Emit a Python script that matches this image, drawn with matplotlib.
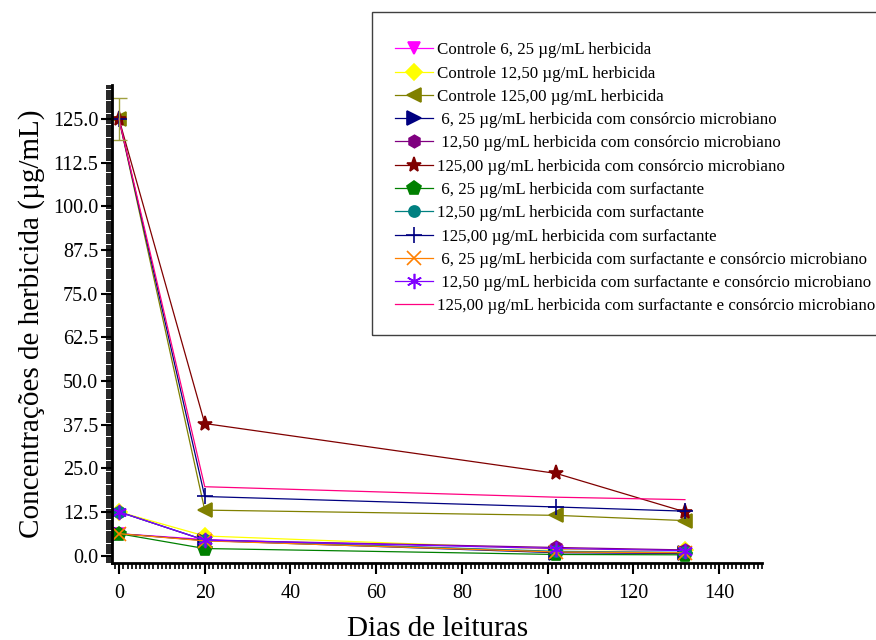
import matplotlib.pyplot as plt
from matplotlib.patches import Rectangle
from matplotlib.ticker import MultipleLocator, FormatStrFormatter

plt.rcParams['font.family'] = ['Liberation Serif', 'DejaVu Serif']

# Dias de leitura
dias = [0, 20, 102, 132]

# Concentrações medidas (µg/mL)
controle_625 = [6.25, 4.6, 1.0, 0.6]
controle_1250 = [12.5, 5.6, 1.8, 1.5]
controle_125 = [125.0, 13.0, 11.5, 10.0]
consorcio_625 = [6.25, 4.3, 0.8, 0.6]
consorcio_1250 = [12.5, 4.4, 2.3, 1.6]
consorcio_125 = [125.0, 37.8, 23.5, 12.5]
surf_625 = [6.25, 2.0, 0.3, 0.2]
surf_1250 = [12.5, 4.4, 1.2, 0.9]
surf_125 = [125.0, 16.9, 13.9, 12.7]
surf_cons_625 = [6.25, 4.2, 1.0, 0.8]
surf_cons_1250 = [12.5, 4.4, 2.0, 1.4]
surf_cons_125 = [125.0, 19.7, 16.7, 16.0]

erro_controle_125 = [6.0, 0, 0, 0]

labels = [
    'Controle 6, 25 µg/mL herbicida',
    'Controle 12,50 µg/mL herbicida',
    'Controle 125,00 µg/mL herbicida',
    ' 6, 25 µg/mL herbicida com consórcio microbiano',
    ' 12,50 µg/mL herbicida com consórcio microbiano',
    '125,00 µg/mL herbicida com consórcio microbiano',
    ' 6, 25 µg/mL herbicida com surfactante',
    '12,50 µg/mL herbicida com surfactante',
    ' 125,00 µg/mL herbicida com surfactante',
    ' 6, 25 µg/mL herbicida com surfactante e consórcio microbiano',
    ' 12,50 µg/mL herbicida com surfactante e consórcio microbiano',
    '125,00 µg/mL herbicida com surfactante e consórcio microbiano',
]

series = [controle_625, controle_1250, controle_125,
          consorcio_625, consorcio_1250, consorcio_125,
          surf_625, surf_1250, surf_125,
          surf_cons_625, surf_cons_1250, surf_cons_125]

colors = ['#FF00FF', '#FFFF00', '#808000', '#000080', '#800080', '#800000',
          '#008000', '#008080', '#000080', '#FF8000', '#8000FF', '#FF0080']
markers = ['v', 'D', '<', '>', 'h', '*', 'p', 'o', '+', 'x', (6, 2, 0), None]
sizes = [9, 8, 10, 10, 9, 11, 10, 8, 11, 10, 11, 0]

fig = plt.figure(figsize=(8.76, 6.4), dpi=100)
ax = fig.add_axes([0.128, 0.12, 0.742, 0.747])

for vals, lab, c, m, s in zip(series, labels, colors, markers, sizes):
    ax.plot(dias, vals, color=c, marker=m, markersize=s, linewidth=0.9,
            markeredgecolor=c, markeredgewidth=1.2, label=lab)

ax.errorbar(dias[:1], controle_125[:1], yerr=erro_controle_125[:1], fmt='none',
            ecolor='#A0A040', elinewidth=1.0, capsize=6, capthick=1.0)

ax.set_xlim(-1.6, 150)
ax.set_ylim(-2.2, 134.7)
ax.xaxis.set_major_locator(MultipleLocator(20))
ax.xaxis.set_minor_locator(MultipleLocator(1))
ax.yaxis.set_major_locator(MultipleLocator(12.5))
ax.yaxis.set_minor_locator(MultipleLocator(0.625))
ax.yaxis.set_major_formatter(FormatStrFormatter('%.1f'))

for side in ['top', 'right']:
    ax.spines[side].set_visible(False)
for side in ['left', 'bottom']:
    ax.spines[side].set_linewidth(2.0)

ax.tick_params(which='major', direction='out', length=8, width=1.5, labelsize=14.5)
ax.tick_params(axis='y', which='major', pad=2)
ax.tick_params(axis='x', which='major', pad=7)
ax.tick_params(which='minor', direction='out', length=4, width=1.2)

ax.set_xlabel('Dias de leituras', fontsize=21, labelpad=9)
ax.set_ylabel('Concentrações de herbicida (µg/mL)', fontsize=21, labelpad=6)

# legenda sem moldura + caixa desenhada à parte (borda direita sai da figura)
leg = fig.legend(loc='upper left', bbox_to_anchor=(0.451, 0.934),
                 fontsize=12.2, frameon=False, handlelength=2.25,
                 handletextpad=0.22, labelspacing=0.43, borderpad=0,
                 borderaxespad=0)
fig.add_artist(Rectangle((0.4247, 0.4766), 0.58, 0.5047, transform=fig.transFigure,
                         fill=False, edgecolor='#404040', linewidth=1.0,
                         clip_on=False))

fig.savefig('out.png', dpi=100)
